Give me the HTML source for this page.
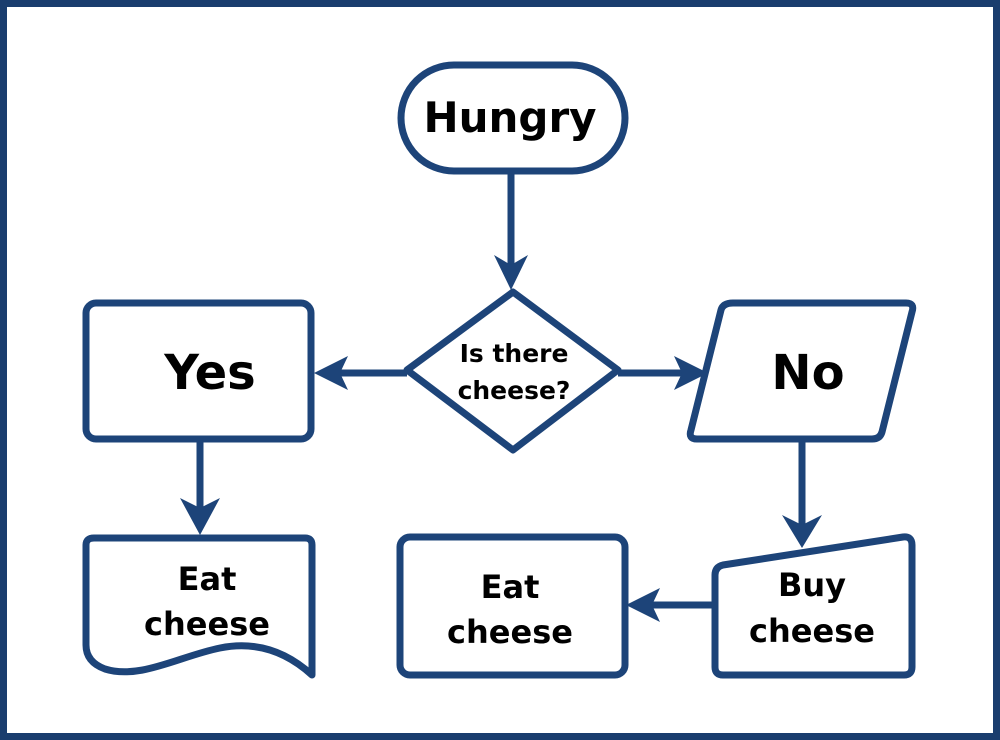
<!DOCTYPE html>
<html><head><style>
html,body{margin:0;padding:0;background:#fff;}
svg{display:block;}
text{font-family:"DejaVu Sans","Liberation Sans",sans-serif;font-weight:bold;fill:#000;text-anchor:middle;}
</style></head><body>
<svg width="1000" height="740" viewBox="0 0 1000 740" xmlns="http://www.w3.org/2000/svg">
<rect x="3.5" y="3.5" width="993" height="733" fill="#fff" stroke="#1a3d6e" stroke-width="7"/>
<g fill="none" stroke="#1d4479" stroke-width="7" stroke-linejoin="round">
<rect x="401" y="65" width="224" height="106" rx="53"/>
<path d="M513,292 L618,370 L513,450 L407,370 Z"/>
<rect x="86" y="303" width="225" height="136" rx="10"/>
<path d="M733,303 H906 Q915,303 912,312 L882,432 Q880,439 872,439 H697 Q688,439 691,430 L721,310 Q723,303 733,303 Z"/>
<path d="M86,545 Q86,538 94,538 H305 Q312,538 312,545 V675 C290,655 260,640 220,648 C180,656 140,680 105,669 Q86,662 86,645 Z"/>
<rect x="400" y="537" width="225" height="138" rx="10"/>
<path d="M715,575 Q715,567 723,565 L903,537 Q912,536 912,545 V667 Q912,675 904,675 H723 Q715,675 715,667 Z"/>
<path d="M511,171 V270"/>
<path d="M407,373 H335"/>
<path d="M618,373 H690"/>
<path d="M200,439 V515"/>
<path d="M802,440 V525"/>
<path d="M715,605 H650"/>
</g>
<g fill="#1d4479">
<path d="M494,255 L511,265 L528,255 L511,290 Z"/>
<path d="M314,373 L348,356 L340,373 L348,390 Z"/>
<path d="M708,373 L674,356 L682,373 L674,390 Z"/>
<path d="M180,498 L200,508 L220,498 L200,535 Z"/>
<path d="M782,515 L802,525 L822,515 L802,548 Z"/>
<path d="M626,605 L660,588 L652,605 L660,622 Z"/>
</g>
<text x="510" y="132" font-size="42">Hungry</text>
<text x="514" y="362" font-size="25">Is there</text>
<text x="514" y="399" font-size="25">cheese?</text>
<text x="210" y="389" font-size="48">Yes</text>
<text x="808" y="389" font-size="48">No</text>
<text x="207" y="590" font-size="32">Eat</text>
<text x="207" y="635" font-size="32">cheese</text>
<text x="510" y="598" font-size="32">Eat</text>
<text x="510" y="643" font-size="32">cheese</text>
<text x="812" y="596" font-size="32">Buy</text>
<text x="812" y="642" font-size="32">cheese</text>
</svg>
</body></html>
